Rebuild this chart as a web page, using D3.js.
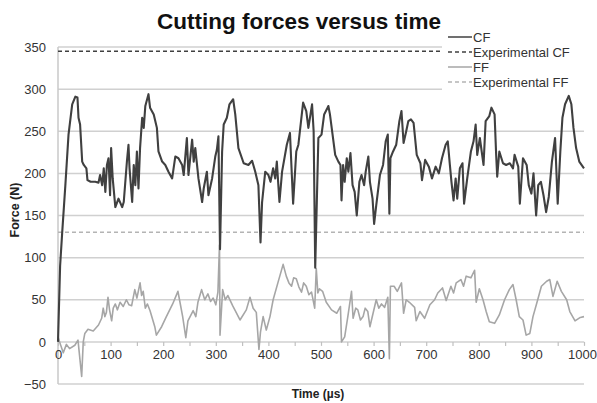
<!DOCTYPE html>
<html>
<head>
<meta charset="utf-8">
<script src="https://cdn.jsdelivr.net/npm/d3@7"></script>
<style>
  body { margin: 0; background: #fff; }
  svg { font-family: "Liberation Sans", Arial, sans-serif; }
</style>
</head>
<body>
<div id="chart"></div>
<script>
// time (µs) / force (N) pairs
var cfTime = [0, 4, 8, 14, 20, 27, 33, 37, 39, 42, 46, 49, 54, 56, 62, 71, 77, 80, 84, 87, 90, 93, 96, 99, 101, 104, 109, 115, 122, 125, 131, 134, 136, 141, 144, 147, 150, 153, 156, 160, 163, 166, 172, 175, 182, 188, 191, 198, 204, 210, 217, 223, 229, 236, 239, 245, 248, 255, 258, 261, 267, 274, 277, 283, 286, 293, 299, 302, 305, 308, 312, 315, 321, 326, 333, 337, 343, 353, 362, 369, 375, 381, 385, 388, 394, 400, 404, 409, 413, 416, 421, 426, 435, 441, 447, 453, 457, 466, 472, 476, 483, 486, 489, 495, 501, 506, 511, 514, 517, 522, 527, 533, 537, 539, 542, 545, 549, 552, 556, 560, 564, 568, 573, 577, 582, 585, 590, 593, 598, 601, 605, 612, 618, 623, 627, 630, 632, 637, 643, 649, 653, 657, 662, 666, 671, 676, 682, 689, 692, 698, 705, 711, 718, 724, 730, 737, 741, 745, 748, 752, 756, 759, 764, 769, 772, 778, 785, 790, 794, 797, 802, 809, 813, 820, 824, 830, 833, 835, 839, 846, 852, 859, 865, 868, 875, 878, 884, 891, 895, 900, 904, 909, 913, 918, 923, 928, 933, 939, 945, 950, 955, 959, 964, 971, 976, 980, 985, 991, 1000];
var cfForce = [0, 90, 130, 186, 246, 282, 291, 290, 266, 258, 214, 210, 206, 192, 190, 190, 189, 198, 186, 206, 178, 210, 218, 174, 230, 194, 160, 170, 160, 166, 214, 234, 206, 166, 210, 186, 226, 182, 230, 266, 254, 280, 294, 278, 270, 254, 226, 214, 210, 202, 194, 220, 218, 210, 198, 242, 198, 240, 214, 230, 194, 166, 182, 202, 174, 194, 220, 228, 244, 110, 226, 258, 266, 282, 288, 270, 230, 212, 210, 215, 202, 186, 118, 166, 202, 198, 190, 206, 194, 214, 166, 202, 234, 248, 164, 226, 234, 284, 274, 254, 282, 250, 88, 242, 246, 270, 276, 280, 270, 246, 222, 214, 210, 168, 210, 190, 218, 202, 224, 186, 178, 150, 190, 198, 186, 202, 220, 190, 170, 140, 162, 198, 210, 238, 246, 152, 218, 226, 234, 262, 274, 236, 250, 262, 264, 260, 222, 212, 192, 216, 208, 194, 208, 200, 218, 234, 238, 210, 190, 168, 194, 170, 206, 212, 164, 194, 226, 238, 258, 222, 242, 210, 262, 268, 278, 270, 222, 196, 226, 212, 210, 212, 206, 222, 208, 164, 218, 210, 186, 176, 200, 150, 186, 190, 174, 154, 172, 214, 242, 164, 226, 266, 282, 292, 282, 254, 230, 214, 206];

var ffTime = [0, 3, 10, 16, 22, 32, 38, 45, 48, 51, 57, 67, 77, 83, 86, 89, 92, 95, 98, 102, 105, 109, 113, 118, 124, 130, 135, 140, 146, 150, 156, 159, 162, 166, 170, 175, 184, 187, 197, 206, 218, 228, 231, 237, 243, 247, 257, 262, 266, 273, 279, 285, 290, 295, 300, 304, 307, 308, 313, 318, 323, 332, 346, 358, 365, 371, 377, 382, 385, 390, 396, 403, 409, 418, 428, 434, 439, 444, 448, 453, 458, 463, 467, 472, 477, 482, 488, 491, 494, 497, 503, 510, 520, 530, 537, 539, 545, 551, 558, 561, 566, 570, 575, 580, 584, 589, 593, 599, 605, 610, 615, 621, 627, 630, 632, 639, 645, 653, 657, 662, 668, 678, 681, 688, 697, 707, 716, 722, 731, 738, 747, 752, 757, 766, 771, 776, 785, 792, 795, 801, 808, 814, 820, 830, 839, 849, 858, 865, 871, 877, 884, 890, 897, 903, 912, 919, 929, 935, 941, 949, 957, 967, 973, 983, 993, 1000];
var ffForce = [6, 0, -13, -3, -8, -4, 2, -41, 0, 10, 15, 13, 20, 28, 40, 30, 35, 53, 38, 25, 40, 45, 38, 47, 42, 50, 44, 43, 62, 52, 70, 55, 60, 40, 45, 37, 18, 8, 18, 30, 45, 60, 50, 30, 5, 25, 37, 30, 47, 62, 50, 57, 48, 52, 44, 59, 115, 8, 62, 50, 55, 43, 26, 38, 53, 40, 35, -9, 12, 30, 14, 30, 50, 70, 92, 78, 70, 66, 76, 75, 65, 59, 70, 66, 56, 59, 40, 87, 58, 63, 60, 47, 38, 34, 42, 0, 6, 30, 60, 28, 40, 38, 26, 30, 40, 36, 18, 34, 50, 40, 45, 41, 53, -20, 66, 66, 60, 70, 34, 50, 47, 41, 25, 36, 28, 44, 50, 58, 64, 49, 66, 58, 70, 74, 66, 78, 76, 85, 47, 63, 50, 36, 24, 22, 32, 50, 62, 68, 50, 30, 26, 8, 10, 30, 50, 66, 72, 74, 54, 72, 60, 50, 36, 25, 29, 30];

var experimentalCF = 345;
var experimentalFF = 130;

var xTicks = d3.range(0, 1001, 100);
var xMinorTicks = d3.range(0, 1001, 50);
var yTicks = d3.range(-50, 351, 50);

var legendItems = [
  {label: "CF", color: "#404040", dash: null},
  {label: "Experimental CF", color: "#404040", dash: "4,3"},
  {label: "FF", color: "#a6a6a6", dash: null},
  {label: "Experimental FF", color: "#b4b4b4", dash: "4,3"}
];

var W = 597, H = 403;

var svg = d3.select("#chart").append("svg")
    .attr("width", W)
    .attr("height", H);

var x = d3.scaleLinear().domain([0, 1000]).range([58, 584]);
var y = d3.scaleLinear().domain([-50, 350]).range([384, 47]);

// horizontal gridlines
svg.append("g")
    .selectAll("line")
    .data(yTicks)
    .enter()
    .append("line")
    .attr("x1", x(0))
    .attr("x2", x(1000))
    .attr("y1", function(d) { return y(d); })
    .attr("y2", function(d) { return y(d); })
    .attr("stroke", "#d0d0d0")
    .attr("stroke-width", 1.5);

// vertical axis line
svg.append("line")
    .attr("x1", x(0)).attr("x2", x(0))
    .attr("y1", y(-50)).attr("y2", y(350))
    .attr("stroke", "#c8c8c8")
    .attr("stroke-width", 1.5);

// y axis labels
var yAxis = svg.append("g")
    .attr("transform", "translate(" + x(0) + ",0)")
    .call(d3.axisLeft(y).tickValues(yTicks).tickSize(0).tickPadding(12));
yAxis.select(".domain").remove();
yAxis.selectAll("text")
    .attr("font-size", 13)
    .attr("font-family", "Liberation Sans, Arial, sans-serif")
    .attr("fill", "#333");

// x axis sits on zero
var xAxisMinor = svg.append("g")
    .attr("transform", "translate(0," + y(0) + ")")
    .call(d3.axisBottom(x).tickValues(xMinorTicks).tickSize(4).tickFormat(""));
xAxisMinor.select(".domain").remove();
xAxisMinor.selectAll("line").attr("stroke", "#c0c0c0").attr("stroke-width", 1.2);

var xAxis = svg.append("g")
    .attr("transform", "translate(0," + y(0) + ")")
    .call(d3.axisBottom(x).tickValues(xTicks).tickSize(0).tickPadding(8).tickFormat(d3.format("d")));
xAxis.select(".domain").remove();
xAxis.selectAll("text")
    .attr("font-size", 13)
    .attr("font-family", "Liberation Sans, Arial, sans-serif")
    .attr("fill", "#333")
    .attr("dx", function(d) { return d === 1000 ? -2 : 0; });

// experimental reference lines
svg.append("line")
    .attr("x1", x(0)).attr("x2", x(1000))
    .attr("y1", y(experimentalCF)).attr("y2", y(experimentalCF))
    .attr("stroke", "#404040")
    .attr("stroke-width", 1.5)
    .attr("stroke-dasharray", "4,3");

svg.append("line")
    .attr("x1", x(0)).attr("x2", x(1000))
    .attr("y1", y(experimentalFF)).attr("y2", y(experimentalFF))
    .attr("stroke", "#b4b4b4")
    .attr("stroke-width", 1.5)
    .attr("stroke-dasharray", "4,3");

var line = d3.line()
    .x(function(d) { return x(d[0]); })
    .y(function(d) { return y(d[1]); });

svg.append("path")
    .datum(d3.zip(ffTime, ffForce))
    .attr("d", line)
    .attr("fill", "none")
    .attr("stroke", "#a6a6a6")
    .attr("stroke-width", 1.6)
    .attr("stroke-linejoin", "round");

svg.append("path")
    .datum(d3.zip(cfTime, cfForce))
    .attr("d", line)
    .attr("fill", "none")
    .attr("stroke", "#404040")
    .attr("stroke-width", 2.1)
    .attr("stroke-linejoin", "round");

// legend box covers the top right of the plot
svg.append("rect")
    .attr("x", 442).attr("y", 28)
    .attr("width", W - 442).attr("height", 62)
    .attr("fill", "#fff");

var legend = svg.append("g")
    .selectAll("g")
    .data(legendItems)
    .enter()
    .append("g")
    .attr("transform", function(d, i) { return "translate(448," + (37 + i * 15) + ")"; });

legend.append("line")
    .attr("x1", 0).attr("x2", 24)
    .attr("stroke", function(d) { return d.color; })
    .attr("stroke-width", 1.5)
    .attr("stroke-dasharray", function(d) { return d.dash; });

legend.append("text")
    .attr("x", 25)
    .attr("dy", "0.35em")
    .attr("font-size", 13)
    .attr("fill", "#333")
    .text(function(d) { return d.label; });

// titles
svg.append("text")
    .attr("x", 299).attr("y", 29)
    .attr("text-anchor", "middle")
    .attr("font-size", 22.5)
    .attr("font-weight", "bold")
    .attr("fill", "#111")
    .text("Cutting forces versus time");

svg.append("text")
    .attr("transform", "translate(19,210) rotate(-90)")
    .attr("text-anchor", "middle")
    .attr("font-size", 12.5)
    .attr("font-weight", "bold")
    .attr("fill", "#222")
    .text("Force (N)");

svg.append("text")
    .attr("x", 318).attr("y", 398)
    .attr("text-anchor", "middle")
    .attr("font-size", 12)
    .attr("font-weight", "bold")
    .attr("fill", "#222")
    .text("Time (µs)");
</script>
</body>
</html>
